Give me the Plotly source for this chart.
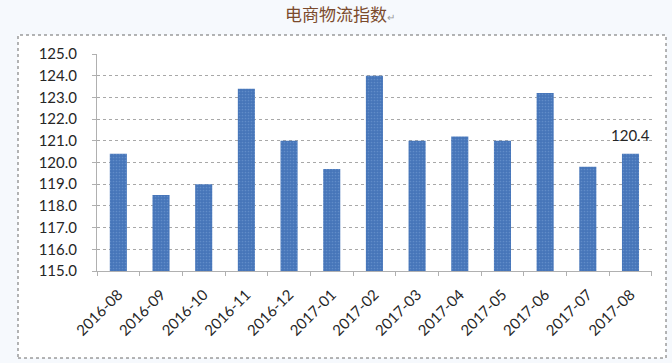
import plotly.graph_objects as go

categories = ["2016-08", "2016-09", "2016-10", "2016-11", "2016-12", "2017-01", "2017-02",
              "2017-03", "2017-04", "2017-05", "2017-06", "2017-07", "2017-08"]
values = [120.4, 118.5, 119.0, 123.4, 121.0, 119.7, 124.0, 121.0, 121.2, 121.0, 123.2, 119.8, 120.4]
labels = [""] * 12 + ["120.4"]
y_ticks = [115 + i for i in range(11)]
title_text = "电商物流指数"

W, H = 672, 363
L, R, T, B = 97, 652, 54, 271
pw, ph = R - L, B - T

def px_x(p):
    return (p - L) / pw

def px_y(p):
    return (B - p) / ph

fig = go.Figure()
fig.add_trace(go.Bar(
    x=categories, y=values,
    marker=dict(color="#4675b9", line=dict(width=0),
                pattern=dict(shape=".", fgcolor="#7aa3d8", size=3, solidity=0.25)),
))

annotations = [dict(xref="paper", yref="paper", x=px_x(340), y=px_y(14),
                    text=title_text + '<span style="font-size:10px;color:#9a9a9a">↵</span>',
                    showarrow=False, xanchor="center", yanchor="middle",
                    font=dict(family="Noto Sans CJK SC", size=17, color="#7b4a2c"))]
for c, v, t in zip(categories, values, labels):
    if t:
        annotations.append(dict(x=c, y=v, text=t, showarrow=False, yanchor="bottom",
                                yshift=8, font=dict(family="Lato", size=15, color="#262626")))

fig.update_layout(
    width=W, height=H,
    margin=dict(l=L, r=W - R, t=T, b=H - B, autoexpand=False),
    paper_bgcolor="#f6f9fd", plot_bgcolor="white",
    bargap=0.6, showlegend=False,
    font=dict(family="Lato", color="#262626"),
    shapes=[dict(type="rect", xref="paper", yref="paper", layer="below",
                 x0=px_x(18), x1=px_x(666), y0=px_y(358), y1=px_y(35),
                 fillcolor="white", line=dict(color="#6a6a6a", width=1, dash="dot"))],
    annotations=annotations,
)

fig.update_yaxes(range=[115, 125], tickvals=y_ticks, ticktext=[f"{v:.1f}" for v in y_ticks],
                 automargin=False,
                 showgrid=True, gridcolor="#a8a8a8", griddash="dot", gridwidth=1,
                 showline=True, linecolor="#b0b0b0", linewidth=1,
                 ticks="outside", ticklen=4, tickcolor="#b0b0b0", ticklabelstandoff=12,
                 tickfont=dict(family="Lato", size=15, color="#262626"), zeroline=False)
fig.update_xaxes(type="category", automargin=False, tickangle=-45,
                 showline=True, linecolor="#b0b0b0", linewidth=1,
                 ticks="outside", ticklen=4, tickcolor="#b0b0b0", tickson="boundaries",
                 ticklabelstandoff=8,
                 tickfont=dict(family="Lato", size=15, color="#262626"))

fig.write_html("out.html", config={"displayModeBar": False},
               post_script="document.body.style.margin='0';document.body.style.padding='0';")
